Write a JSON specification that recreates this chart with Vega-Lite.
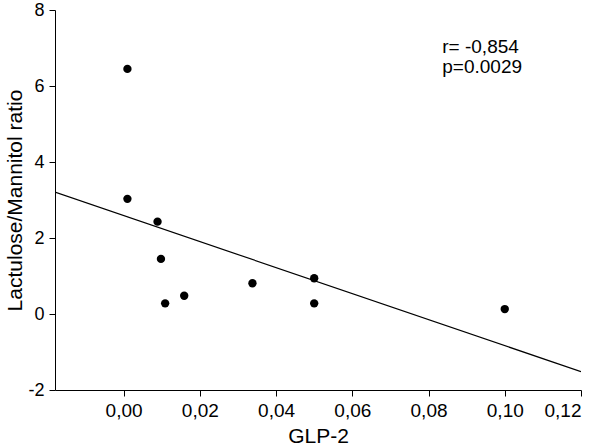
{
  "$schema": "https://vega.github.io/schema/vega-lite/v6.json",
  "width": 526,
  "height": 380,
  "autosize": {"type": "none"},
  "padding": {"left": 55, "top": 10, "right": 19, "bottom": 57},
  "background": "white",
  "config": {
    "view": {"stroke": null},
    "font": "Liberation Sans",
    "axis": {
      "grid": false,
      "domainColor": "#000",
      "tickColor": "#000",
      "labelColor": "#000",
      "titleColor": "#000",
      "labelFont": "Liberation Sans",
      "titleFont": "Liberation Sans",
      "labelFontSize": 18,
      "titleFontSize": 21,
      "titleFontWeight": "normal",
      "tickSize": 6,
      "labelPadding": 5,
      "domainWidth": 1,
      "tickWidth": 1
    }
  },
  "datasets": {
    "pts": [
      {"glp2": 0.001, "ratio": 6.45},
      {"glp2": 0.001, "ratio": 3.03},
      {"glp2": 0.0089, "ratio": 2.43},
      {"glp2": 0.0098, "ratio": 1.45},
      {"glp2": 0.0109, "ratio": 0.28},
      {"glp2": 0.0159, "ratio": 0.48},
      {"glp2": 0.0338, "ratio": 0.81},
      {"glp2": 0.05, "ratio": 0.94},
      {"glp2": 0.05, "ratio": 0.28},
      {"glp2": 0.10, "ratio": 0.13}
    ],
    "ann": [
      {"glp2": 0.0836, "ratio": 6.86, "label": "r= -0,854"},
      {"glp2": 0.0836, "ratio": 6.33, "label": "p=0.0029"}
    ]
  },
  "encoding": {
    "x": {
      "field": "glp2",
      "type": "quantitative",
      "scale": {"domain": [-0.018, 0.12], "nice": false, "zero": false},
      "axis": {
        "title": "GLP-2",
        "values": [0, 0.02, 0.04, 0.06, 0.08, 0.1, 0.12],
        "labelExpr": "replace(format(datum.value, '.2f'), '.', ',')",
        "labelFontSize": 19,
        "titlePadding": 5
      }
    },
    "y": {
      "field": "ratio",
      "type": "quantitative",
      "scale": {"domain": [-2, 8], "nice": false, "zero": false},
      "axis": {
        "title": "Lactulose/Mannitol ratio",
        "values": [-2, 0, 2, 4, 6, 8],
        "labelExpr": "'' + datum.value",
        "titlePadding": 2
      }
    }
  },
  "layer": [
    {
      "data": {"name": "pts"},
      "transform": [
        {"regression": "ratio", "on": "glp2", "method": "linear", "extent": [-0.018, 0.12]}
      ],
      "mark": {"type": "line", "color": "#000", "strokeWidth": 1.2, "clip": true}
    },
    {
      "data": {"name": "pts"},
      "mark": {"type": "point", "filled": true, "color": "#000", "size": 70, "opacity": 1}
    },
    {
      "data": {"name": "ann"},
      "mark": {"type": "text", "align": "left", "baseline": "alphabetic", "fontSize": 19, "color": "#000", "font": "Liberation Sans"},
      "encoding": {"text": {"field": "label"}}
    }
  ]
}
